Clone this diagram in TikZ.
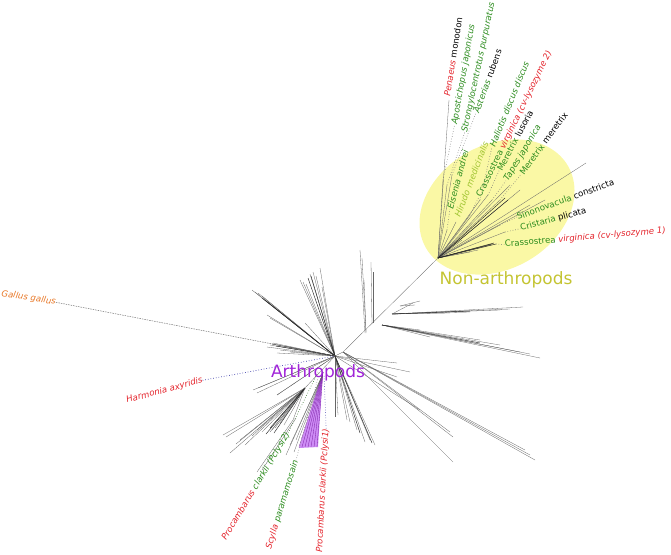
\documentclass[tikz,border=0pt]{standalone}
\usepackage{fontspec}
\setmainfont{DejaVu Sans}
\definecolor{lred}{RGB}{228,36,44}
\definecolor{lgreen}{RGB}{44,140,30}
\definecolor{lyg}{RGB}{160,196,50}
\definecolor{lorange}{RGB}{232,120,40}
\definecolor{lpurple}{RGB}{160,36,216}
\definecolor{wedge}{RGB}{205,140,245}
\definecolor{ell}{RGB}{250,248,165}
\definecolor{nonarth}{RGB}{196,196,50}
\definecolor{lblue}{RGB}{60,60,170}
\newcommand\spG[1]{\textcolor{lgreen}{\itshape #1}}
\newcommand\spGu[1]{\textcolor{lgreen}{\upshape #1}}
\newcommand\spR[1]{\textcolor{lred}{\itshape #1}}
\newcommand\spK[1]{\textcolor{black}{\upshape #1}}
\newcommand\spY[1]{\textcolor{lyg}{\itshape #1}}
\begin{document}
\begin{tikzpicture}[x=1pt,y=-1pt,
  br/.style={draw=black!60,line width=0.3pt},
  brd/.style={draw=black!85,line width=0.45pt},
  lead/.style={draw=black!55,line width=0.6pt,dotted},
  lab/.style={font=\fontsize{8.6}{9}\selectfont,inner sep=0pt,anchor=base west},
  big/.style={font=\fontsize{17}{18}\selectfont,inner sep=0pt}]
\useasboundingbox (0,0) rectangle (671,554);
% ---------------- yellow highlight
\fill[ell, rotate around={30:(497,207)}] (497,207) ellipse [x radius=82, y radius=62];
% ---------------- hubs
\coordinate (H) at (335,356);
\coordinate (H2) at (343,352);
\coordinate (R) at (438,258);
\coordinate (L) at (305,388);
\coordinate (B1) at (382,325);
\coordinate (B2) at (392,314);
\coordinate (B3) at (400,306);
\draw[br] (H) -- (H2) -- (R);
% ---------------- arthropod upper fans
\foreach \x/\y in {252/290,255/292,258/293,262/296,267/315,270/318,300/280,303/282,306/284,310/274,313/272,316/276,320/268,322/287,305/323}
  \draw[br] (H) -- (\x,\y);
\foreach \x/\y in {262/298,265/300,308/278,311/276}
  \draw[brd] (H) -- (\x,\y);
% near vertical lines hanging from backbone
\foreach \x/\y/\u/\v in {365/333/360/250,366/332/362/258,372/324/371/262,373/323/373/272,366/333/364/280}
  \draw[br] (\x,\y) -- (\u,\v);
% left fans
\foreach \x/\y in {267/347,270/345,273/343,277/353,280/350,285/346,253/390,258/388,277/395,290/352}
  \draw[br] (H) -- (\x,\y);
\foreach \x/\y in {272/344,276/346}
  \draw[brd] (H) -- (\x,\y);
% lower-left fans
\draw[br] (H) -- (L);
\foreach \x/\y in {223/435,226/437,230/453,236/444,240/440,245/445,252/436,257/430,262/432,270/432,272/430,275/428,280/423,284/425}
  \draw[br] (L) -- (\x,\y);
\foreach \x/\y in {266/434,270/428,274/433}
  \draw[brd] (L) -- (\x,\y);
\draw[br] (257,472) -- (293,420) -- (L);
\draw[br] (262,470) -- (296,418);
\draw[br] (257,393) -- (H);
\draw[br] (277,395) -- (H);
% purple wedge
\fill[wedge] (323,372) -- (299,448) -- (318,447) -- cycle;
\foreach \x in {299,302,305,308,311,314,317}
  \draw[draw=lpurple!75!black,line width=0.3pt] (323,372) -- (\x,447);
\foreach \x/\y in {290/445,294/452,296/440,286/455}
  \draw[br] (322,376) -- (\x,\y);
% down-right fans
\foreach \x/\y in {335/417,338/415,347/420,350/422,357/430,365/442,370/440,375/445,420/410,397/377,397/363,410/372}
  \draw[br] (H) -- (\x,\y);
\foreach \x/\y in {372/443,360/433}
  \draw[brd] (H) -- (\x,\y);
\foreach \x/\y in {535/460,530/455,525/450,453/462,453/437,450/432}
  \draw[br] (H2) -- (\x,\y);
% right fans from backbone
\foreach \x/\y in {540/358,530/354,520/352,500/345,480/340,430/337,420/330}
  \draw[br] (B1) -- (\x,\y);
\foreach \x/\y in {523/307,510/309,500/310,470/312,450/313,413/303}
  \draw[br] (B2) -- (\x,\y);
\foreach \x/\y in {415/305,420/301}
  \draw[br] (B3) -- (\x,\y);
\draw[brd] (B2) -- (470,311);
\draw[brd] (B1) -- (480,343);
% ---------------- non-arthropod fan
\foreach \x/\y in {449/100,443/180,447/185,452/175,447/230,456/222,470/215,480/200,488/195,492/200,500/200,586/163,500/225,505/232,490/245,478/250,470/252,462/240,530/205,545/200,520/190,510/185}
  \draw[br] (R) -- (\x,\y);
\foreach \x/\y in {492/244,494/243,496/244,505/198,508/200}
  \draw[brd] (R) -- (\x,\y);
% ---------------- labels non-arthropods
\node[lab,rotate=81] (pen) at (450,97) {\spR{Penaeus} \spK{monodon}};
\node[lab,rotate=80] (apo) at (457,125) {\spG{Apostichopus japonicus}};
\node[lab,rotate=78] (str) at (467,133) {\spG{Strongylocentrotus purpuratus}};
\node[lab,rotate=70] (ast) at (479,114) {\spG{Asterias} \spK{rubens}};
\node[lab,rotate=75] (eis) at (453,210) {\spG{Eisenia andrei}};
\node[lab,rotate=69] (hir) at (460,218) {\spY{Hirudo medicinalis}};
\node[lab,rotate=64] (cr2) at (481,198) {\spGu{Crassostrea} \spR{virginica (cv-lysozyme 2)}};
\node[lab,rotate=68] (hal) at (495,148) {\spG{Haliotis discus discus}};
\node[lab,rotate=62] (mlu) at (502,172) {\spGu{Meretrix} \spK{lusoria}};
\node[lab,rotate=59] (tap) at (508,182) {\spG{Tapes japonica}};
\node[lab,rotate=54] (mme) at (524,176) {\spGu{Meretrix} \spK{meretrix}};
\node[lab,rotate=20] (sin) at (518,220) {\spGu{Sinonovacula} \spK{constricta}};
\node[lab,rotate=15] (cri) at (521,231) {\spGu{Cristaria} \spK{plicata}};
\node[lab,rotate=5] (cr1) at (505,247) {\spGu{Crassostrea} \spR{virginica (cv-lysozyme 1)}};
\draw[lead] (443,180) -- (apo.west);
\draw[lead] (447,185) -- (str.west);
\draw[lead] (452,175) -- (ast.west);
\draw[lead] (447,230) -- (eis.west);
\draw[lead] (470,215) -- (cr2.west);
\draw[lead] (480,200) -- (hal.west);
\draw[lead] (488,195) -- (mlu.west);
\draw[lead] (492,200) -- (tap.west);
\draw[lead] (500,200) -- (mme.west);
\draw[lead] (500,225) -- (sin.west);
\draw[lead] (505,232) -- (cri.west);
\draw[lead] (496,244) -- (cr1.west);
% ---------------- labels arthropods
\node[lab,rotate=-9,text=lorange] (gal) at (1,296) {\itshape Gallus gallus};
\draw[draw=black!55,line width=0.5pt,dash pattern=on 1.5pt off 1pt] (gal.east) -- (H);
\node[lab,rotate=15,text=lred] (har) at (127,403) {\itshape Harmonia axyridis};
\draw[draw=lblue,line width=0.7pt,dotted] (har.east) -- (H);
\node[lab,rotate=59] (pc2) at (226,541) {\spR{Procambarus} \spG{clarkii (Pclysi2)}};
\draw[draw=lgreen!70!black,line width=0.6pt,dotted] (pc2.east) -- (318,372);
\node[lab,rotate=73] (scy) at (271,550) {\spR{Scylla} \spG{paramamosain}};
\draw[draw=black!50,line width=0.6pt,dotted] (scy.east) -- (318,378);
\node[lab,rotate=87,text=lred] (pc1) at (322,553) {\itshape Procambarus clarkii (Pclysi1)};
\draw[draw=lblue,line width=0.6pt,dotted] (pc1.east) -- (324,374);
% ---------------- group labels
\node[big,text=lpurple] (arth) at (318,373) {Arthropods};
\node[big,text=nonarth] (narth) at (506,280) {Non-arthropods};
\end{tikzpicture}
\end{document}
